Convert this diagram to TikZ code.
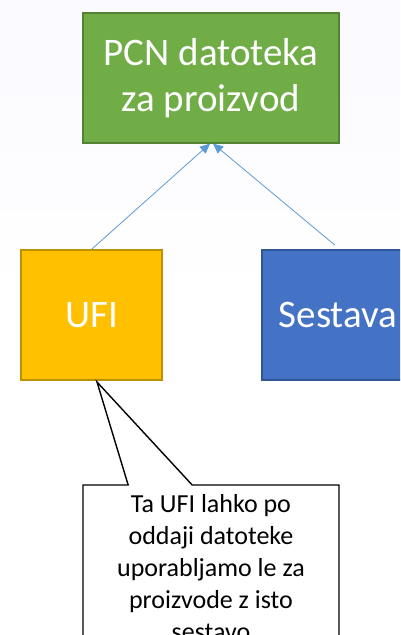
\documentclass[tikz,border=0pt]{standalone}
\usepackage{fontspec}
\setmainfont{Carlito}
\usetikzlibrary{arrows.meta,shapes.callouts}

\definecolor{pcngreen}{HTML}{70AD47}
\definecolor{pcngreenline}{HTML}{548235}
\definecolor{ufiyellow}{HTML}{FFC000}
\definecolor{ufiyellowline}{HTML}{BF9000}
\definecolor{sesblue}{HTML}{4472C4}
\definecolor{sesblueline}{HTML}{2F5597}
\definecolor{linkblue}{HTML}{5B9BD5}

\tikzset{
  box/.style={rectangle, draw, line width=1.2pt, text=white, align=center,
    inner sep=0pt, font=\fontsize{39}{46}\selectfont},
  link/.style={draw=linkblue, line width=0.8pt,
    -{Triangle[length=10pt,width=9pt]}},
}

\begin{document}
\begin{tikzpicture}[x=1pt,y=-1pt]
  \useasboundingbox (0,0) rectangle (400,635);
  \clip (0,0) rectangle (400,635);
  \shade[top color=blue!2, bottom color=white] (0,0) rectangle (400,300);

  \node[box, fill=pcngreen, draw=pcngreenline,
    minimum width=256pt, minimum height=130pt] (pcn) at (211,78)
    {PCN datoteka\\za proizvod};
  \node[box, fill=ufiyellow, draw=ufiyellowline,
    minimum width=141pt, minimum height=130pt] (ufi) at (91.5,315) {UFI};
  \node[box, fill=sesblue, draw=sesblueline,
    minimum width=152pt, minimum height=130pt] (ses) at (338,315) {Sestava};

  \draw[link] (ufi.north) -- ([xshift=-1pt]pcn.south);
  \draw[link, shorten <=7pt] ([xshift=2pt]ses.north) -- ([xshift=2pt]pcn.south);

  \coordinate (tip) at (97,382);
  \node[rectangle callout, callout absolute pointer={(tip)},
    callout pointer width=64pt, draw=black, line width=1.4pt, fill=white,
    minimum width=256pt, minimum height=166pt, inner sep=0pt,
    align=center, font=\fontsize{26}{32}\selectfont] (note) at (211,568)
    {Ta UFI lahko po\\oddaji datoteke\\uporabljamo le za\\proizvode z isto\\sestavo};
\end{tikzpicture}
\end{document}
